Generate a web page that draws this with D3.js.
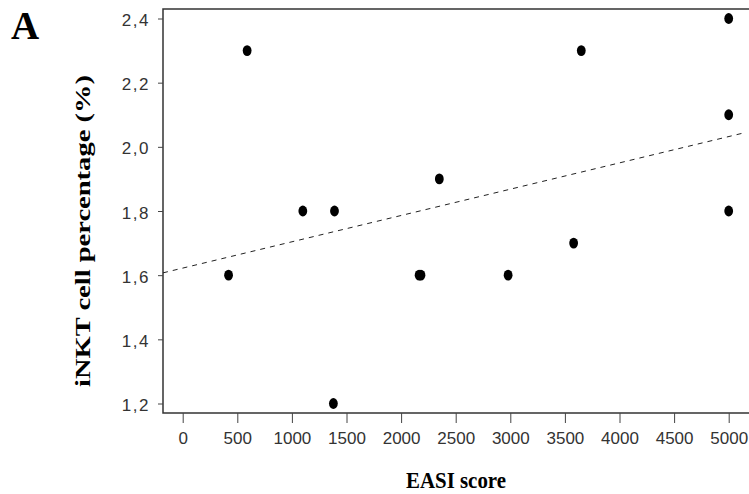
<!DOCTYPE html>
<html>
<head>
<meta charset="utf-8">
<script src="https://cdn.jsdelivr.net/npm/d3@7"></script>
<style>
  body { margin: 0; background: #fff; }
  svg { display: block; }
</style>
</head>
<body>
<svg width="749" height="494"></svg>
<script>
// values
var easiScore = [420, 590, 1100, 1390, 1380, 2165, 2182, 2350, 2980, 3580, 3650, 5000, 5000, 5000];
var inktPct   = [1.6, 2.3, 1.8, 1.8, 1.2, 1.6, 1.6, 1.9, 1.6, 1.7, 2.3, 2.4, 2.1, 1.8];
var xTicks = [0, 500, 1000, 1500, 2000, 2500, 3000, 3500, 4000, 4500, 5000];
var yTicks = [1.2, 1.4, 1.6, 1.8, 2.0, 2.2, 2.4];
var trendIntercept = 1.622,
    trendSlope = 0.000082;

var svg = d3.select("svg"),
    width = +svg.attr("width"),
    height = +svg.attr("height");

var frame = {left: 163, right: 749, top: 9, bottom: 413};

var x = d3.scaleLinear().domain([0, 5000]).range([182.7, 728.7]);
var y = d3.scaleLinear().domain([1.2, 2.4]).range([403.5, 18.5]);

var fmtY = function(d) { return d3.format(".1f")(d).replace(".", ","); };

// frame (left, top, bottom; right side is cut off)
svg.append("path")
    .attr("d", "M" + frame.right + "," + frame.top + "H" + frame.left +
               "V" + frame.bottom + "H" + frame.right)
    .attr("fill", "none")
    .attr("stroke", "#333")
    .attr("stroke-width", 1.5);

// y axis
var yAxis = svg.append("g")
    .attr("transform", "translate(" + frame.left + ",0)")
    .call(d3.axisLeft(y).tickValues(yTicks).tickSize(5).tickPadding(8).tickFormat(fmtY));
yAxis.select(".domain").remove();
yAxis.selectAll(".tick line").attr("stroke", "#444");
yAxis.selectAll(".tick text")
    .attr("fill", "#333")
    .attr("dy", "0.42em")
    .style("font-family", "'Liberation Sans', Arial, sans-serif")
    .style("font-size", "17px")
    .style("letter-spacing", "1.5px");

// x axis
var xAxis = svg.append("g")
    .attr("transform", "translate(0," + frame.bottom + ")")
    .call(d3.axisBottom(x).tickValues(xTicks).tickSize(10).tickPadding(9).tickFormat(d3.format("d")));
xAxis.select(".domain").remove();
xAxis.selectAll(".tick line").attr("stroke", "#444");
xAxis.selectAll(".tick text")
    .attr("fill", "#333")
    .style("font-family", "'Liberation Sans', Arial, sans-serif")
    .style("font-size", "17px");

// regression line, dashed, across the whole frame
var xLo = x.invert(frame.left), xHi = x.invert(745);
svg.append("line")
    .attr("x1", x(xLo))
    .attr("y1", y(trendIntercept + trendSlope * xLo))
    .attr("x2", x(xHi))
    .attr("y2", y(trendIntercept + trendSlope * xHi))
    .attr("stroke", "#222")
    .attr("stroke-width", 1)
    .attr("stroke-dasharray", "5,5");

// points (slightly tall dots, as in the scan)
svg.append("g")
    .selectAll("ellipse")
    .data(easiScore.map(function(d, i) { return {x: d, y: inktPct[i]}; }))
    .enter().append("ellipse")
    .attr("cx", function(d) { return x(d.x); })
    .attr("cy", function(d) { return y(d.y); })
    .attr("rx", 4.4)
    .attr("ry", 5.4)
    .attr("fill", "#000");

// titles
svg.append("text")
    .attr("x", 456)
    .attr("y", 488)
    .attr("text-anchor", "middle")
    .attr("textLength", 100)
    .attr("lengthAdjust", "spacingAndGlyphs")
    .style("font-family", "'Liberation Serif', 'Times New Roman', serif")
    .style("font-weight", "bold")
    .style("font-size", "23px")
    .text("EASI score");

svg.append("text")
    .attr("transform", "translate(89.5,231) rotate(-90)")
    .attr("text-anchor", "middle")
    .attr("textLength", 312)
    .attr("lengthAdjust", "spacingAndGlyphs")
    .style("font-family", "'Liberation Serif', 'Times New Roman', serif")
    .style("font-weight", "bold")
    .style("font-size", "20px")
    .text("iNKT cell percentage (%)");

svg.append("text")
    .attr("x", 11)
    .attr("y", 39)
    .style("font-family", "'Liberation Serif', 'Times New Roman', serif")
    .style("font-weight", "bold")
    .style("font-size", "39px")
    .text("A");
</script>
</body>
</html>
